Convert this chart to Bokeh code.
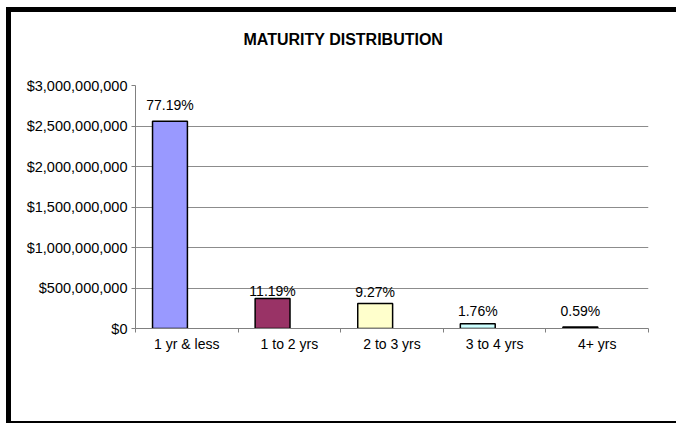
from bokeh.plotting import figure
from bokeh.models import (ColumnDataSource, Range1d, LinearAxis, Title,
                          FixedTicker, SingleIntervalTicker, NumeralTickFormatter)
from bokeh.core.properties import value
from bokeh.embed import file_html
from bokeh.resources import INLINE

categories = ["1 yr & less", "1 to 2 yrs", "2 to 3 yrs", "3 to 4 yrs", "4+ yrs"]
amounts = [2559000000, 371000000, 307300000, 58300000, 19600000]
pct_labels = ["77.19%", "11.19%", "9.27%", "1.76%", "0.59%"]
bar_colors = ["#9999FF", "#993366", "#FFFFCC", "#CCFFFF", "#660066"]
label_offsets = [-16, -7, -12, -13, -16]

FONT = "Liberation Sans"
n = len(categories)
centers = [i + 0.5 for i in range(n)]
bounds = list(range(n + 1))
bar_x = [c - 0.164 for c in centers]

src = ColumnDataSource(dict(x=bar_x, amt=amounts, lbl=pct_labels,
                            col=bar_colors, off=label_offsets))

p = figure(x_range=Range1d(0, n), y_range=Range1d(0, 3000000000),
           title="MATURITY DISTRIBUTION",
           width=670, height=416, output_backend="svg", toolbar_location=None,
           min_border_left=124, min_border_right=33, min_border_top=73,
           min_border_bottom=100, x_axis_location=None)
p.styles = {"margin-left": "6px", "margin-top": "7px",
            "border-left": "5px solid black", "border-top": "5px solid black",
            "border-bottom": "2px solid black"}

p.title.align = "left"
p.title.offset = 108
p.title.text_font = FONT
p.title.text_font_size = "16px"
p.title.text_font_style = "bold"
p.title.text_color = "black"
p.title.standoff = 31

# spacer between the frame and the main title
spacer = Title(text=" ", text_font=FONT, text_font_size="10px", standoff=9)
p.add_layout(spacer, "above")

p.outline_line_color = None
p.background_fill_color = "white"
p.border_fill_color = "white"

p.vbar(x="x", top="amt", width=0.34, source=src,
       fill_color="col", line_color="black", line_width=1.5)

p.text(x="x", y="amt", text="lbl", y_offset="off",
       source=src, text_align="center", text_baseline="middle",
       text_font=value(FONT), text_font_size="14px", text_color="black")

# y axis
ya = p.yaxis[0]
ya.ticker = SingleIntervalTicker(interval=500000000)
ya.formatter = NumeralTickFormatter(format="$0,0")
ya.axis_line_color = "#808080"
ya.major_tick_line_color = "#808080"
ya.major_tick_out = 4
ya.major_tick_in = 0
ya.minor_tick_line_color = None
ya.major_label_text_font = FONT
ya.major_label_text_font_size = "14.5px"
ya.major_label_text_color = "black"
ya.major_label_standoff = 4

p.xgrid.grid_line_color = None
p.ygrid.grid_line_color = "#8c8c8c"
p.ygrid.grid_line_width = 1

# x axis: labels at category centres, small ticks at category boundaries
xa = LinearAxis(ticker=FixedTicker(ticks=centers, minor_ticks=bounds),
                major_label_overrides={c: name for c, name in zip(centers, categories)},
                axis_line_color="#808080", major_tick_line_color=None,
                major_tick_out=0, major_tick_in=0,
                minor_tick_line_color="#808080", minor_tick_out=4, minor_tick_in=0,
                major_label_text_font=FONT, major_label_text_font_size="14px",
                major_label_text_color="black", major_label_standoff=3)
p.add_layout(xa, "below")

open("out.html", "w").write(file_html(p, INLINE))
